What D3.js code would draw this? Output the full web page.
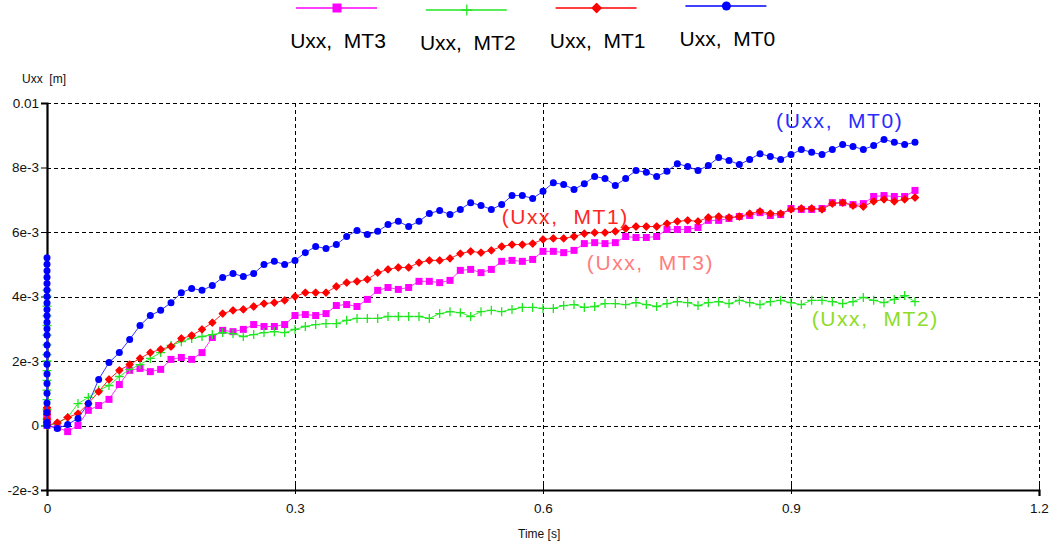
<!DOCTYPE html>
<html>
<head>
<meta charset="utf-8">
<script src="https://cdnjs.cloudflare.com/ajax/libs/d3/7.8.5/d3.min.js"></script>
<style>
  body { margin: 0; background: #fff; }
  svg { display: block; font-family: 'Liberation Sans', Arial, sans-serif; }
</style>
</head>
<body>
<script>
////Global Variables
const width = 1053;
const height = 546;

// solver output step [s]
const dt = 0.0125;

// Uxx [1e-3 m], one value per step (t = k * dt)
const uxxMT0 = [
  0, -0.09, 0.03, 0.22, 0.68, 1.43, 1.95, 2.26, 2.67, 3.10,
  3.41, 3.57, 3.81, 4.12, 4.25, 4.19, 4.34, 4.59, 4.71, 4.62,
  4.71, 4.99, 5.09, 4.99, 5.12, 5.36, 5.55, 5.49, 5.61, 5.86,
  6.05, 5.92, 6.02, 6.23, 6.33, 6.17, 6.33, 6.57, 6.67, 6.54,
  6.70, 6.91, 6.82, 6.70, 6.85, 7.13, 7.13, 7.04, 7.26, 7.53,
  7.47, 7.32, 7.50, 7.72, 7.66, 7.44, 7.66, 7.91, 7.85, 7.72,
  7.88, 8.12, 8.03, 7.91, 8.06, 8.31, 8.22, 8.09, 8.25, 8.43,
  8.34, 8.25, 8.40, 8.56, 8.47, 8.40, 8.56, 8.71, 8.65, 8.56,
  8.68, 8.87, 8.78, 8.71, 8.78
];
const uxxMT1 = [
  0, 0.09, 0.25, 0.37, 0.68, 1.05, 1.43, 1.71, 1.89, 2.08,
  2.26, 2.36, 2.45, 2.70, 2.79, 2.98, 3.19, 3.47, 3.57, 3.60,
  3.69, 3.78, 3.81, 3.88, 4.00, 4.12, 4.12, 4.12, 4.31, 4.43,
  4.47, 4.53, 4.74, 4.84, 4.90, 4.90, 5.05, 5.12, 5.12, 5.18,
  5.33, 5.40, 5.36, 5.43, 5.55, 5.61, 5.61, 5.64, 5.77, 5.80,
  5.80, 5.86, 5.95, 5.98, 5.98, 6.02, 6.11, 6.17, 6.17, 6.17,
  6.26, 6.33, 6.36, 6.33, 6.45, 6.48, 6.45, 6.48, 6.57, 6.64,
  6.57, 6.57, 6.70, 6.73, 6.73, 6.70, 6.88, 6.91, 6.82, 6.79,
  6.95, 7.01, 6.95, 7.01, 7.07
];
const uxxMT2 = [
  0, 0.06, 0.25, 0.68, 0.87, 1.09, 1.24, 1.52, 1.74, 1.89,
  2.08, 2.26, 2.48, 2.60, 2.70, 2.76, 2.82, 2.88, 2.85, 2.76,
  2.82, 2.88, 2.91, 2.88, 2.98, 3.07, 3.13, 3.16, 3.16, 3.26,
  3.32, 3.32, 3.32, 3.38, 3.38, 3.38, 3.38, 3.32, 3.47, 3.53,
  3.50, 3.38, 3.53, 3.57, 3.53, 3.60, 3.66, 3.66, 3.63, 3.63,
  3.72, 3.75, 3.66, 3.69, 3.78, 3.78, 3.75, 3.81, 3.75, 3.69,
  3.78, 3.84, 3.81, 3.72, 3.81, 3.84, 3.78, 3.88, 3.81, 3.75,
  3.84, 3.88, 3.81, 3.75, 3.88, 3.88, 3.84, 3.78, 3.84, 3.97,
  3.88, 3.81, 3.91, 4.03, 3.84
];
const uxxMT3 = [
  0, -0.06, -0.19, 0, 0.47, 0.62, 0.81, 1.27, 1.71, 1.77,
  1.67, 1.74, 2.05, 2.11, 2.05, 2.26, 2.73, 2.95, 2.91, 2.98,
  3.13, 3.07, 3.07, 3.13, 3.41, 3.44, 3.41, 3.47, 3.72, 3.75,
  3.69, 3.91, 4.19, 4.28, 4.22, 4.28, 4.47, 4.47, 4.43, 4.50,
  4.81, 4.84, 4.74, 4.84, 5.09, 5.12, 5.09, 5.15, 5.40, 5.40,
  5.36, 5.43, 5.64, 5.67, 5.64, 5.67, 5.86, 5.83, 5.83, 5.86,
  6.08, 6.08, 6.08, 6.14, 6.36, 6.36, 6.42, 6.48, 6.51, 6.60,
  6.51, 6.54, 6.73, 6.70, 6.70, 6.73, 6.91, 6.91, 6.85, 6.88,
  7.10, 7.13, 7.10, 7.10, 7.29
];

// the first step jumps up and down at t = 0 before settling [1e-3 m]
const spikeMT0 = [5.2, 0.1, 5.0, 0.4, 4.8, 0.7, 4.6, 1.0, 4.4, 1.3, 4.2, 1.6, 4.0, 1.9, 3.8, 2.2, 3.6, 2.5, 3.4, 2.8, 3.2, 3.0];
const spikeMT1 = [0.55, 0.1, 0.45, 0.2, 0.35];
const spikeMT2 = [4.2, 0.2, 4.0, 0.5, 3.7, 0.8, 3.4, 1.1, 3.1, 1.4, 2.8, 1.7, 2.5, 2.0, 2.2];
const spikeMT3 = [0.35, 0.05, 0.25, 0.15];

const seriesNames = ['Uxx,  MT3', 'Uxx,  MT2', 'Uxx,  MT1', 'Uxx,  MT0'];
const tagNames = ['(Uxx,  MT3)', '(Uxx,  MT2)', '(Uxx,  MT1)', '(Uxx,  MT0)'];
// where each in-plot tag starts: time [s], Uxx [m] at text baseline
const tagTimes = [0.653, 0.925, 0.55, 0.882];
const tagValues = [0.00481, 0.00307, 0.00626, 0.00921];

const xTicks = [0, 0.3, 0.6, 0.9, 1.2];
const yTicks = [-0.002, 0, 0.002, 0.004, 0.006, 0.008, 0.01];
const yTickLabels = ['-2e-3', '0', '2e-3', '4e-3', '6e-3', '8e-3', '0.01'];

// same order as seriesNames
const seriesValues = [uxxMT3, uxxMT2, uxxMT1, uxxMT0];
const seriesSpikes = [spikeMT3, spikeMT2, spikeMT1, spikeMT0];
const colors = ['#ff00ff', '#22e622', '#ff0000', '#0000ff'];
const lineColors = ['#ff33ff', '#33ee33', '#ff2222', '#3535ff'];
const tagColors = ['#ff7d7d', '#8cdc28', '#ff2626', '#2a2aff'];
const markers = ['square', 'plus', 'diamond', 'circle'];

const svg = d3.select('body').append('svg')
  .attr('width', width)
  .attr('height', height);

const xScale = d3.scaleLinear().domain([0, 1.2]).range([47, 1039]);
const yScale = d3.scaleLinear().domain([-0.002, 0.01]).range([490, 103]);

function markerPath(type, s) {
  const h = s / 2;
  if (type === 'square') return `M${-h},${-h}h${s}v${s}h${-s}z`;
  if (type === 'diamond') return `M0,${-h}L${h},0L0,${h}L${-h},0Z`;
  if (type === 'plus') return `M${-h},0H${h}M0,${-h}V${h}`;
  return d3.symbol(d3.symbolCircle, Math.PI * h * h)();
}

function drawMarker(g, type, color, s) {
  const p = g.append('path').attr('d', markerPath(type, s));
  if (type === 'plus') {
    p.attr('fill', 'none').attr('stroke', color).attr('stroke-width', 1.3);
  } else if (type === 'diamond') {
    p.attr('fill', color).attr('stroke', color).attr('stroke-width', 1.2).attr('stroke-linejoin', 'round');
  } else {
    p.attr('fill', color);
  }
}

// grid
const grid = svg.append('g').attr('stroke', '#000').attr('stroke-dasharray', '4,3').attr('stroke-width', 1);
grid.selectAll('.gy').data(yTicks.filter(d => d > -0.002)).enter().append('line')
  .attr('x1', xScale(0)).attr('x2', xScale(1.2))
  .attr('y1', d => Math.round(yScale(d)) + 0.5).attr('y2', d => Math.round(yScale(d)) + 0.5);
grid.selectAll('.gx').data(xTicks.filter(d => d > 0)).enter().append('line')
  .attr('y1', yScale(0.01)).attr('y2', yScale(-0.002))
  .attr('x1', d => Math.round(xScale(d)) + 0.5).attr('x2', d => Math.round(xScale(d)) + 0.5);

// axes
const xAxis = d3.axisBottom(xScale).tickValues(xTicks).tickFormat(d3.format('')).tickSizeOuter(0).tickSize(6).tickPadding(7);
const yAxis = d3.axisLeft(yScale).tickValues(yTicks).tickFormat((d, i) => yTickLabels[i]).tickSizeOuter(0).tickSize(6).tickPadding(2);

const gx = svg.append('g')
  .attr('id', 'x-axis')
  .attr('transform', `translate(0, ${yScale(-0.002)})`)
  .call(xAxis);
gx.selectAll('.tick line').attr('y1', -6).attr('y2', 4).attr('stroke', '#000');

const gy = svg.append('g')
  .attr('id', 'y-axis')
  .attr('transform', `translate(${xScale(0)}, 0)`)
  .call(yAxis);

svg.selectAll('.domain').attr('stroke', '#000').attr('stroke-width', 2.2);
svg.selectAll('.tick text').attr('font-size', 13.5).attr('fill', '#111').attr('font-family', "'Liberation Sans', Arial, sans-serif");

svg.append('text').attr('x', 22).attr('y', 83).attr('font-size', 12).attr('fill', '#111')
  .style('white-space', 'pre').text('Uxx  [m]');
svg.append('text').attr('x', 518).attr('y', 538).attr('font-size', 12).attr('fill', '#111')
  .text('Time [s]');

// series
const line = d3.line().x(d => xScale(d[0])).y(d => yScale(d[1]));

seriesValues.forEach((vals, i) => {
  const data = seriesSpikes[i].map(v => [0, v / 1000])
    .concat(vals.map((v, k) => [k * dt, v / 1000]));
  const g = svg.append('g').attr('class', 'series');
  g.append('path')
    .datum(data)
    .attr('d', line)
    .attr('fill', 'none')
    .attr('stroke', lineColors[i])
    .attr('stroke-width', 1);
  data.forEach(d => {
    const m = g.append('g').attr('transform', `translate(${xScale(d[0])},${yScale(d[1])})`);
    drawMarker(m, markers[i], colors[i], markers[i] === 'plus' ? 9 : 7);
  });
});

// in-plot tags
svg.selectAll('.tag').data(tagNames).enter().append('text')
  .attr('class', 'tag')
  .attr('x', (d, i) => xScale(tagTimes[i]))
  .attr('y', (d, i) => yScale(tagValues[i]))
  .attr('font-size', 21)
  .attr('letter-spacing', 1.6)
  .attr('fill', (d, i) => tagColors[i])
  .style('white-space', 'pre')
  .text(d => d);

// legend
const legendY = [0, 2, 0, -2];
const legend = svg.append('g').attr('class', 'legend');
seriesNames.forEach((name, i) => {
  const x0 = 296 + i * 129.8;
  const y0 = 8 + legendY[i];
  const g = legend.append('g');
  g.append('line').attr('x1', x0).attr('x2', x0 + 81).attr('y1', y0).attr('y2', y0)
    .attr('stroke', colors[i]).attr('stroke-width', 1.5);
  const m = g.append('g').attr('transform', `translate(${x0 + 41},${y0})`);
  drawMarker(m, markers[i], colors[i], markers[i] === 'plus' ? 11 : 9);
  g.append('text').attr('x', x0 + 42).attr('y', y0 + 40)
    .attr('text-anchor', 'middle').attr('font-size', 21).attr('fill', '#000')
    .style('white-space', 'pre').text(name);
});
</script>
</body>
</html>
